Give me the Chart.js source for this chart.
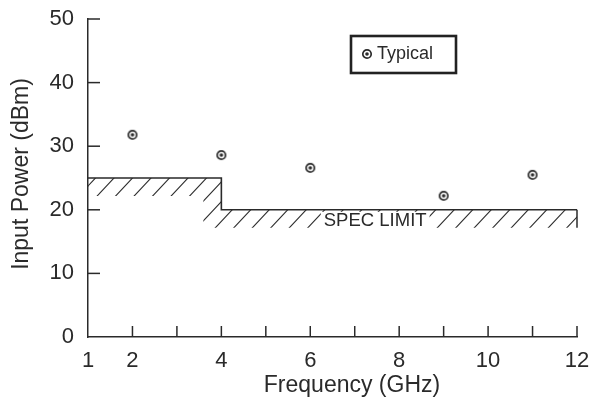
<!DOCTYPE html>
<html>
<head>
<meta charset="utf-8">
<script src="https://cdn.jsdelivr.net/npm/chart.js@4/dist/chart.umd.min.js"></script>
<style>
  html, body { margin: 0; padding: 0; background: #fff; }
  canvas { display: block; }
</style>
</head>
<body>
<canvas id="chart" width="596" height="406"></canvas>
<script>
// measured points
var freqGHz = [2, 4, 6, 9, 11];
var typicalDbm = [31.8, 28.6, 26.6, 22.2, 25.5];

// spec limit step line
var specFreq = [1, 4, 4, 12];
var specDbm = [25, 25, 20, 20];

var xLabels = [1, 2, 4, 6, 8, 10, 12];
var ink = '#2a2a2a';
var font = 'Liberation Sans, Arial, Helvetica, sans-serif';

// ring-with-dot marker
function makeMarker() {
  var c = document.createElement('canvas');
  c.width = 12; c.height = 12;
  var g = c.getContext('2d');
  g.strokeStyle = ink;
  g.lineWidth = 1.7;
  g.beginPath(); g.arc(6, 6, 4.2, 0, Math.PI * 2); g.stroke();
  g.fillStyle = ink;
  g.beginPath(); g.arc(6, 6, 1.8, 0, Math.PI * 2); g.fill();
  return c;
}
var marker = makeMarker();

var points = freqGHz.map(function (f, i) { return { x: f, y: typicalDbm[i] }; });
var spec = specFreq.map(function (f, i) { return { x: f, y: specDbm[i] }; });

var extras = {
  id: 'extras',
  beforeDatasetsDraw: function (chart) {
    var ctx = chart.ctx;
    var xs = chart.scales.x, ys = chart.scales.y;
    var band = 18;
    var p = spec.map(function (d) { return [xs.getPixelForValue(d.x), ys.getPixelForValue(d.y)]; });
    // hatched band under the spec line
    ctx.save();
    ctx.beginPath();
    ctx.moveTo(p[0][0], p[0][1]);
    ctx.lineTo(p[1][0], p[1][1]);
    ctx.lineTo(p[2][0], p[2][1]);
    ctx.lineTo(p[3][0], p[3][1]);
    ctx.lineTo(p[3][0], p[3][1] + band);
    ctx.lineTo(p[2][0] - band, p[2][1] + band);
    ctx.lineTo(p[1][0] - band, p[0][1] + band);
    ctx.lineTo(p[0][0], p[0][1] + band);
    ctx.closePath();
    ctx.clip();
    ctx.strokeStyle = ink;
    ctx.lineWidth = 1.1;
    for (var x0 = p[0][0] - 60; x0 < p[3][0] + 60; x0 += 18.5) {
      ctx.beginPath();
      ctx.moveTo(x0, 250);
      ctx.lineTo(x0 + 75, 170);
      ctx.stroke();
    }
    ctx.restore();
    // right end of band
    ctx.save();
    ctx.strokeStyle = ink;
    ctx.lineWidth = 1.5;
    ctx.beginPath();
    ctx.moveTo(p[3][0], p[3][1]);
    ctx.lineTo(p[3][0], p[3][1] + band);
    ctx.stroke();
    // SPEC LIMIT label
    ctx.font = '18.5px ' + font;
    var tx = xs.getPixelForValue(7.46), ty = ys.getPixelForValue(18.2);
    var w = ctx.measureText('SPEC LIMIT').width;
    ctx.fillStyle = '#fff';
    ctx.fillRect(tx - w / 2 - 3, ys.getPixelForValue(20) + 2, w + 6, band);
    ctx.fillStyle = ink;
    ctx.textAlign = 'center';
    ctx.textBaseline = 'middle';
    ctx.fillText('SPEC LIMIT', tx, ty);
    ctx.restore();
  },
  afterDraw: function (chart) {
    var ctx = chart.ctx;
    var xs = chart.scales.x, ys = chart.scales.y;
    var a = chart.chartArea;
    ctx.save();
    ctx.strokeStyle = ink;
    ctx.lineWidth = 1.5;
    // inward ticks
    for (var v = 2; v <= 12; v++) {
      var px = xs.getPixelForValue(v);
      ctx.beginPath(); ctx.moveTo(px, a.bottom); ctx.lineTo(px, a.bottom - 11); ctx.stroke();
    }
    for (var t = 10; t <= 50; t += 10) {
      var py = ys.getPixelForValue(t);
      ctx.beginPath(); ctx.moveTo(a.left, py); ctx.lineTo(a.left + 12, py); ctx.stroke();
    }
    // axis titles
    ctx.fillStyle = ink;
    ctx.font = '23px ' + font;
    ctx.textAlign = 'center';
    ctx.textBaseline = 'middle';
    ctx.fillText('Frequency (GHz)', 352, 386);
    ctx.save();
    ctx.translate(22, 174);
    ctx.rotate(-Math.PI / 2);
    ctx.fillText('Input Power (dBm)', 0, 0);
    ctx.restore();
    // legend box
    ctx.lineWidth = 2.6;
    ctx.strokeStyle = '#222';
    ctx.strokeRect(351, 36, 105, 37);
    ctx.drawImage(marker, 367 - 6, 54 - 6);
    ctx.font = '18px ' + font;
    ctx.textAlign = 'left';
    ctx.fillText('Typical', 377, 54);
    ctx.restore();
  }
};

new Chart(document.getElementById('chart'), {
  type: 'scatter',
  data: {
    datasets: [{
      label: 'Typical',
      data: points,
      pointStyle: marker,
      pointRadius: 6,
      showLine: false
    }, {
      label: 'Spec limit',
      type: 'line',
      data: spec,
      borderColor: ink,
      borderWidth: 1.6,
      pointRadius: 0,
      fill: false,
      tension: 0
    }]
  },
  options: {
    responsive: false,
    animation: false,
    events: [],
    layout: { padding: { top: 19, right: 19, left: 0, bottom: 0 } },
    plugins: { legend: { display: false }, tooltip: { enabled: false } },
    scales: {
      x: {
        type: 'linear',
        min: 1, max: 12,
        afterFit: function (s) { s.height = 69; s.paddingLeft = 0; s.paddingRight = 0; },
        afterBuildTicks: function (s) {
          s.ticks = [];
          for (var v = 1; v <= 12; v++) s.ticks.push({ value: v });
        },
        grid: { display: false, drawTicks: false },
        border: { display: true, color: ink, width: 1.5 },
        ticks: {
          autoSkip: false,
          maxRotation: 0,
          padding: 11,
          color: ink,
          font: { family: font, size: 22 },
          callback: function (v) { return xLabels.indexOf(v) >= 0 ? String(v) : ''; }
        }
      },
      y: {
        min: 0, max: 50,
        afterFit: function (s) { s.width = 88; s.paddingTop = 0; s.paddingBottom = 0; },
        grid: { display: false, drawTicks: false },
        border: { display: true, color: ink, width: 1.5 },
        ticks: {
          stepSize: 10,
          padding: 14,
          color: ink,
          font: { family: font, size: 22 }
        }
      }
    }
  },
  plugins: [extras]
});
</script>
</body>
</html>
